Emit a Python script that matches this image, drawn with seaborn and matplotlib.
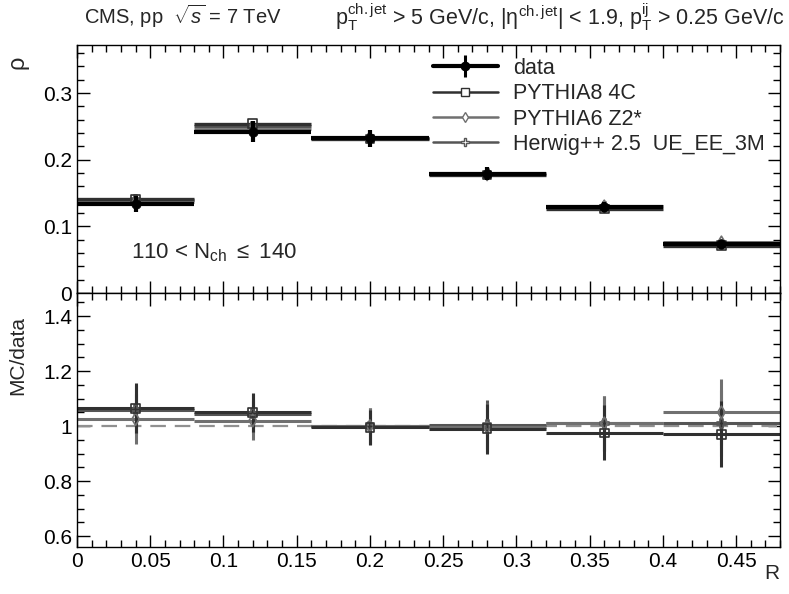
import numpy as np
import pandas as pd
import matplotlib
matplotlib.use("Agg")
import matplotlib.pyplot as plt
import seaborn as sns
from matplotlib.lines import Line2D
from matplotlib.ticker import MultipleLocator, FuncFormatter

# bins in R
bin_lo = [0.00, 0.08, 0.16, 0.24, 0.32, 0.40]
bin_hi = [0.08, 0.16, 0.24, 0.32, 0.40, 0.48]

# top panel: rho
data_rho = [0.133, 0.242, 0.232, 0.179, 0.129, 0.073]
data_err = [0.012, 0.016, 0.013, 0.010, 0.008, 0.006]
p8_rho = [0.141, 0.254, 0.231, 0.177, 0.126, 0.071]
p6_rho = [0.136, 0.246, 0.232, 0.178, 0.130, 0.076]
hw_rho = [0.140, 0.250, 0.232, 0.180, 0.130, 0.073]

# bottom panel: MC/data
p8_ratio = [1.065, 1.050, 0.995, 0.990, 0.975, 0.970]
p6_ratio = [1.025, 1.020, 1.000, 0.995, 1.010, 1.050]
hw_ratio = [1.060, 1.045, 1.000, 1.005, 1.010, 1.010]
ratio_err = [0.090, 0.070, 0.065, 0.090, 0.100, 0.120]

series = [
    ("data", data_rho, None, "black", "o", "full", 3.0),
    ("PYTHIA8 4C", p8_rho, p8_ratio, "#303030", "s", "none", 2.4),
    ("PYTHIA6 Z2*", p6_rho, p6_ratio, "#707070", "d", "none", 2.0),
    ("Herwig++ 2.5  UE_EE_3M", hw_rho, hw_ratio, "#555555", "P", "none", 2.2),
]

sns.set_theme(style="ticks")
plt.rcParams["font.family"] = ["Liberation Sans", "DejaVu Sans"]
plt.rcParams["mathtext.fontset"] = "custom"
plt.rcParams["mathtext.rm"] = "Liberation Sans"
plt.rcParams["mathtext.it"] = "Liberation Sans:italic"

fig = plt.figure(figsize=(7.89, 5.94), dpi=100)
ax1 = fig.add_axes([0.0976, 0.5067, 0.891, 0.4175])
ax2 = fig.add_axes([0.0976, 0.0791, 0.891, 0.4276])

lo = np.array(bin_lo)
hi = np.array(bin_hi)
centers = (lo + hi) / 2
half = (hi - lo) / 2

# top panel
handles = []
for name, rho, ratio, col, mk, fill, lw in series[::-1]:
    yerr = data_err if name == "data" else None
    ax1.errorbar(centers, rho, xerr=half, yerr=yerr, fmt="none",
                 ecolor=col, elinewidth=lw, capsize=0, zorder=3 if name == "data" else 2)
    df = pd.DataFrame({"R": centers, "v": rho})
    if fill == "full":
        sns.scatterplot(data=df, x="R", y="v", ax=ax1, marker=mk, s=45,
                        color=col, edgecolor=col, legend=False, zorder=4)
    else:
        sns.scatterplot(data=df, x="R", y="v", ax=ax1, marker=mk, s=40,
                        facecolor="none", edgecolor=col, linewidth=1.2,
                        legend=False, zorder=3)

for name, rho, ratio, col, mk, fill, lw in series:
    hline = Line2D([], [], color=col, lw=lw if name == "data" else 1.8)
    mline = Line2D([], [], marker=mk, ls="none", color=col, ms=6 if name == "data" else 5.5,
                   markerfacecolor=col if fill == "full" else "white",
                   markeredgecolor=col, markeredgewidth=1.0)
    if name == "data":
        vline = Line2D([], [], marker="|", ls="none", color=col, ms=16, markeredgewidth=2.2)
        handles.append(((hline, vline, mline), name))
    else:
        handles.append(((hline, mline), name))

ax1.legend([h for h, _ in handles], [n for _, n in handles], loc="upper left",
           bbox_to_anchor=(0.488, 1.0), frameon=False, fontsize=15.5,
           handlelength=3.0, handletextpad=0.7, labelspacing=0.2, borderaxespad=0.2)

ax1.text(0.037, 0.06, r"110 < N$_{\mathrm{ch}}$ $\leq$ 140", fontsize=16, va="center")

# bottom panel
ax2.axhline(1.0, color="#909090", lw=1.6, ls=(0, (7, 4)), zorder=1)
for name, rho, ratio, col, mk, fill, lw in series[1:][::-1]:
    ax2.errorbar(centers, ratio, xerr=half, yerr=ratio_err, fmt="none",
                 ecolor=col, elinewidth=2.2, capsize=0, zorder=2)
    df = pd.DataFrame({"R": centers, "v": ratio})
    sns.scatterplot(data=df, x="R", y="v", ax=ax2, marker=mk, s=40,
                    facecolor="none", edgecolor=col, linewidth=1.2,
                    legend=False, zorder=3)

fmt = FuncFormatter(lambda v, p: "%g" % round(v, 3))
for ax in (ax1, ax2):
    ax.set_xlim(0, 0.48)
    ax.xaxis.set_major_locator(MultipleLocator(0.05))
    ax.xaxis.set_minor_locator(MultipleLocator(0.01))
    ax.tick_params(which="both", direction="in", top=True, right=True,
                   labelsize=15, width=1.0, colors="black")
    ax.tick_params(which="major", length=9)
    ax.tick_params(which="minor", length=5)
    ax.set_xlabel("")
    ax.set_ylabel("")
    for s in ax.spines.values():
        s.set_linewidth(1.0)
        s.set_color("black")
    ax.xaxis.set_major_formatter(fmt)
    ax.yaxis.set_major_formatter(fmt)

ax1.set_ylim(0, 0.372)
ax1.yaxis.set_major_locator(MultipleLocator(0.1))
ax1.yaxis.set_minor_locator(MultipleLocator(0.02))
ax1.tick_params(labelbottom=False)

ax2.set_ylim(0.56, 1.484)
ax2.yaxis.set_major_locator(MultipleLocator(0.2))
ax2.yaxis.set_minor_locator(MultipleLocator(0.05))

fig.text(0.022, 0.895, "ρ", fontsize=17, rotation=90, ha="center", va="center")
fig.text(0.022, 0.468, "MC/data", fontsize=15, rotation=90, ha="center", va="top")
fig.text(0.988, 0.018, "R", fontsize=15, ha="right", va="bottom")

fig.text(0.106, 0.972, r"CMS, pp  $\sqrt{s}$ = 7 TeV", fontsize=14.5, va="center")
fig.text(0.995, 0.972,
         r"p$_{\mathrm{T}}^{\mathrm{ch.jet}}$ > 5 GeV/c, |η$^{\mathrm{ch.jet}}$| < 1.9, "
         r"p$_{\mathrm{T}}^{\mathrm{ij}}$ > 0.25 GeV/c",
         fontsize=15.5, ha="right", va="center")

fig.savefig("out.png", dpi=100)
